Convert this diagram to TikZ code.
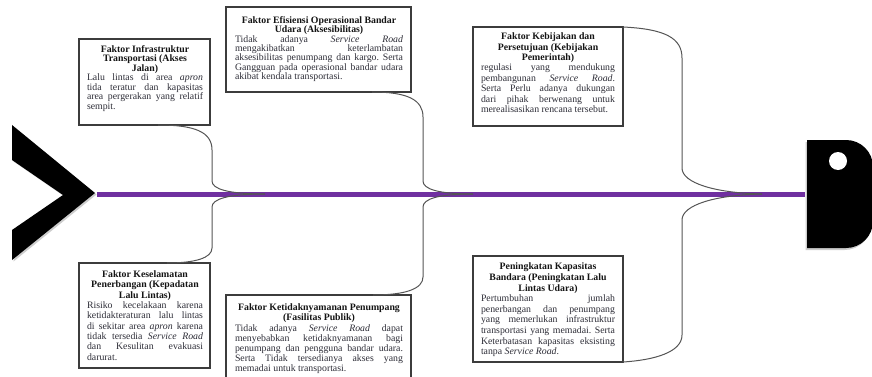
\documentclass[tikz,border=0pt]{standalone}
\usepackage{fontspec}
\setmainfont{Liberation Serif}
\usetikzlibrary{calc}
\definecolor{spinec}{RGB}{112,48,160}
\definecolor{bonec}{RGB}{85,85,85}
\definecolor{boxc}{RGB}{60,60,60}
\definecolor{bodyc}{RGB}{45,45,55}
\definecolor{titlec}{RGB}{20,20,20}
\definecolor{shadc}{RGB}{205,205,205}
\newcommand{\ttl}[1]{\tolerance=10000 \hbadness=10000 \hyphenpenalty=10000 \frenchspacing\noindent{\centering\bfseries\color{titlec}#1\par}\noindent}
\begin{document}
\begin{tikzpicture}[x=1pt,y=-1pt,
  box/.style={draw=boxc, line width=1.1pt, fill=white, anchor=north west, inner sep=0pt, outer sep=0pt},
  txt/.style n args={2}{anchor=north west, inner sep=0pt, outer sep=0pt, text width=#1pt, align=justify, text=bodyc,
    font=\fontsize{9.8pt}{#2pt}\selectfont},
  spine/.style={draw=spinec, line width=5pt},
  bone/.style={draw=bonec, line width=1pt}]
\clip (0,0) rectangle (872,377);
\fill[white] (0,0) rectangle (872,377);

% tail chevron
\fill[shadc, shift={(1.5,1.5)}] (12,125) -- (95,193) -- (12,260) -- (12,230) -- (63,195) -- (12,160) -- cycle;
\fill[black] (12,125) -- (95,193) -- (12,260) -- (12,230) -- (63,195) -- (12,160) -- cycle;

% head
\fill[shadc, shift={(-1.5,2)}] (807,140) -- (846,140) .. controls (861,140) and (873,152) .. (873,167) -- (873,221) .. controls (873,236) and (861,248) .. (846,248) -- (807,248) -- cycle;
\fill[black] (807,140) -- (846,140) .. controls (861,140) and (873,152) .. (873,167) -- (873,221) .. controls (873,236) and (861,248) .. (846,248) -- (807,248) -- cycle;
\fill[white] (838,161) circle[radius=9];

% spine
\coordinate (tail) at (97,194);
\coordinate (head) at (805,194);
\coordinate (tipA) at (265,194);
\coordinate (tipB) at (473,194);
\coordinate (tipC) at (762,194);
\draw[spine] (tail) -- (head);

% boxes
\node[box, minimum width=131, minimum height=86] (b1) at (79,39) {};
\node[box, minimum width=185, minimum height=85] (b2) at (226,7) {};
\node[box, minimum width=150, minimum height=99] (b3) at (473,27) {};
\node[box, minimum width=131, minimum height=105] (b4) at (79,263) {};
\node[box, minimum width=185, minimum height=90] (b5) at (226,295) {};
\node[box, minimum width=150, minimum height=106] (b6) at (473,256) {};

% bones
\draw[bone] ($(b1.south west)+(79,0)$) .. controls (195,125) and (212,132) .. (212,150) -- (212,181)
   .. controls (212,189) and (228,194) .. (tipA);
\draw[bone] (tipA) .. controls (228,194) and (212,199) .. (212,207) -- (212,248)
   .. controls (212,258) and (195,263) .. ($(b4.north west)+(88,0)$);
\draw[bone] ($(b2.south west)+(146,0)$) .. controls (408,92) and (423,100) .. (423,117) -- (423,181)
   .. controls (423,189) and (438,194) .. (tipB);
\draw[bone] (tipB) .. controls (438,194) and (423,199) .. (423,207) -- (423,277)
   .. controls (423,289) and (405,295) .. ($(b5.north west)+(147,0)$);
\draw[bone] (b3.north east) .. controls (665,29) and (682,38) .. (682,58) -- (682,168)
   .. controls (682,183) and (715,193) .. (tipC);
\draw[bone] (tipC) .. controls (715,195) and (682,205) .. (682,220) -- (682,335)
   .. controls (682,352) and (655,360) .. (b6.south east);

% texts
\node[txt={116}{9.5}] (t1) at ($(b1.north west)+(8,6.5)$) {\ttl{Faktor Infrastruktur\\Transportasi (Akses\\Jalan)}Lalu lintas di area \emph{apron}\linebreak tida teratur dan kapasitas\linebreak area pergerakan yang relatif\linebreak sempit.};
\node[txt={168}{9.4}] (t2) at ($(b2.north west)+(9,9.5)$) {\ttl{Faktor Efisiensi Operasional Bandar\\Udara (Aksesibilitas)}Tidak adanya \emph{Service Road}\linebreak mengakibatkan keterlambatan\linebreak aksesibilitas penumpang dan kargo. Serta\linebreak Gangguan pada operasional bandar udara\linebreak akibat kendala transportasi.};
\node[txt={134}{10.4}] (t3) at ($(b3.north west)+(8,6)$) {\ttl{Faktor Kebijakan dan\\Persetujuan (Kebijakan\\Pemerintah)}regulasi yang mendukung\linebreak pembangunan \emph{Service Road}.\linebreak Serta Perlu adanya dukungan\linebreak dari pihak berwenang untuk\linebreak merealisasikan rencana tersebut.};
\node[txt={116}{10.3}] (t4) at ($(b4.north west)+(8,7.8)$) {\ttl{Faktor Keselamatan\\Penerbangan (Kepadatan\\Lalu Lintas)}Risiko kecelakaan karena\linebreak ketidakteraturan lalu lintas\linebreak di sekitar area \emph{apron} karena\linebreak tidak tersedia \emph{Service Road}\linebreak dan Kesulitan evakuasi\linebreak darurat.};
\node[txt={168}{10.2}] (t5) at ($(b5.north west)+(9,8.8)$) {\ttl{Faktor Ketidaknyamanan Penumpang\\(Fasilitas Publik)}Tidak adanya \emph{Service Road} dapat\linebreak menyebabkan ketidaknyamanan bagi\linebreak penumpang dan pengguna bandar udara.\linebreak Serta Tidak tersedianya akses yang\linebreak memadai untuk transportasi.};
\node[txt={134}{10.6}] (t6) at ($(b6.north west)+(8,7)$) {\ttl{Peningkatan Kapasitas\\Bandara (Peningkatan Lalu\\Lintas Udara)}Pertumbuhan jumlah\linebreak penerbangan dan penumpang\linebreak yang memerlukan infrastruktur\linebreak transportasi yang memadai. Serta\linebreak Keterbatasan kapasitas eksisting\linebreak tanpa \emph{Service Road}.};
\end{tikzpicture}
\end{document}
